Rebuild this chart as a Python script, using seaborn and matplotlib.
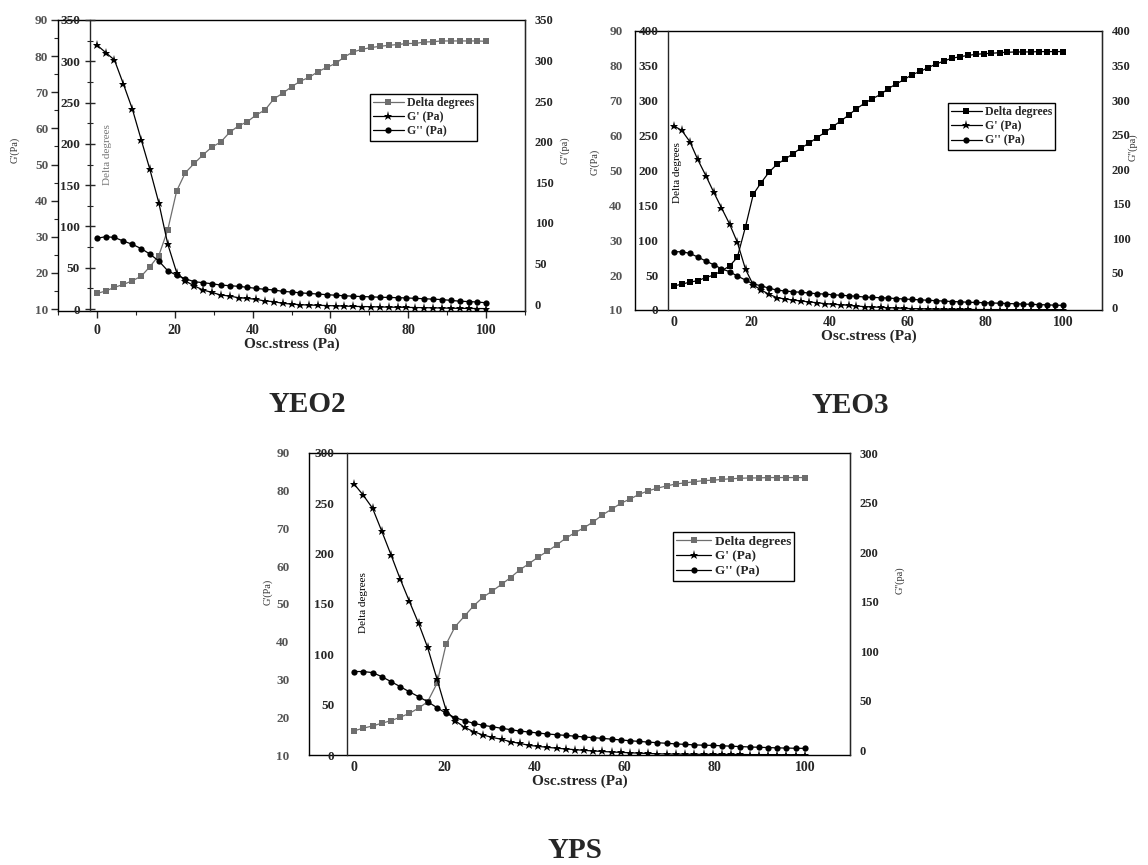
import pandas as pd
import seaborn as sns
import matplotlib.pyplot as plt
from matplotlib.ticker import MultipleLocator

sns.set_style('ticks')
plt.rcParams['font.family'] = ['Liberation Serif', 'DejaVu Serif']
plt.rcParams['font.weight'] = 'bold'

# ---- data ----
# YEO2 (45 points)
x_yeo2 = [0, 2.3, 4.5, 6.8, 9.1, 11.4, 13.6, 15.9, 18.2, 20.5,
          22.7, 25.0, 27.3, 29.5, 31.8, 34.1, 36.4, 38.6, 40.9, 43.2,
          45.5, 47.7, 50.0, 52.3, 54.5, 56.8, 59.1, 61.4, 63.6, 65.9,
          68.2, 70.5, 72.7, 75.0, 77.3, 79.5, 81.8, 84.1, 86.4, 88.6,
          90.9, 93.2, 95.5, 97.7, 100]
delta_yeo2 = [14.3, 15.0, 16.0, 16.8, 17.8, 19.1, 21.7, 24.8, 31.9, 42.7,
              47.7, 50.3, 52.7, 54.8, 56.2, 58.9, 60.7, 61.8, 63.7, 65.1,
              68.2, 69.7, 71.5, 73.1, 74.1, 75.7, 76.9, 78.0, 79.8, 81.2,
              81.9, 82.4, 82.7, 83.0, 83.2, 83.5, 83.5, 83.9, 84.0, 84.2,
              84.2, 84.2, 84.2, 84.2, 84.1]
gp_yeo2 = [319.7, 310.4, 301.6, 272.5, 242.2, 204.7, 169.2, 128.7, 78.7, 44.0,
           34.0, 28.0, 23.0, 20.2, 17.0, 15.7, 13.7, 12.9, 11.7, 9.7,
           8.9, 6.9, 6.0, 5.2, 4.8, 4.5, 4.2, 3.8, 3.5, 3.2,
           3.0, 2.8, 2.5, 2.3, 2.1, 2.0, 1.8, 1.6, 1.4, 1.2,
           1.0, 0.8, 0.7, 0.6, 0.5]
gpp_yeo2 = [81, 83, 82, 77.6, 73.6, 68.2, 61.6, 53.0, 41.0, 35.4,
            31.2, 27.5, 26.3, 25.0, 23.4, 22.6, 21.8, 20.6, 19.3, 18.1,
            17.3, 15.6, 14.8, 13.8, 13.0, 12.3, 11.5, 10.8, 10.2, 9.6,
            9.2, 8.8, 8.4, 8.1, 7.8, 7.5, 7.0, 6.5, 6.0, 5.5,
            4.5, 3.5, 3.0, 2.5, 1.5]

# YEO3 and YPS (50 points)
x_50 = [0, 2.0, 4.1, 6.1, 8.2, 10.2, 12.2, 14.3, 16.3, 18.4,
        20.4, 22.4, 24.5, 26.5, 28.6, 30.6, 32.7, 34.7, 36.7, 38.8,
        40.8, 42.9, 44.9, 46.9, 49.0, 51.0, 53.1, 55.1, 57.1, 59.2,
        61.2, 63.3, 65.3, 67.3, 69.4, 71.4, 73.5, 75.5, 77.6, 79.6,
        81.6, 83.7, 85.7, 87.8, 89.8, 91.8, 93.9, 95.9, 98.0, 100]
delta_yeo3 = [16.9, 17.4, 18.0, 18.4, 19.3, 20.0, 21.2, 22.6, 25.1, 33.9,
              43.2, 46.5, 49.6, 51.8, 53.3, 54.8, 56.5, 57.8, 59.4, 60.9,
              62.6, 64.2, 65.9, 67.7, 69.3, 70.6, 71.8, 73.5, 74.8, 76.1,
              77.5, 78.4, 79.5, 80.5, 81.4, 82.2, 82.6, 83.0, 83.3, 83.5,
              83.6, 83.8, 83.9, 84.0, 84.0, 84.0, 84.1, 84.1, 84.1, 84.1]
gp_yeo3 = [263.8, 257.6, 241.3, 216.0, 192.6, 169.2, 146.7, 123.3, 97.0, 58.3,
           35.8, 28.7, 22.4, 17.7, 15.8, 14.3, 12.9, 11.5, 10.5, 9.1,
           8.1, 7.6, 6.7, 5.7, 4.8, 4.3, 3.8, 3.3, 2.8, 2.3,
           2.0, 1.7, 1.4, 1.2, 1.0, 0.9, 0.8, 0.8, 0.7, 0.7,
           0.6, 0.6, 0.5, 0.5, 0.5, 0.4, 0.4, 0.4, 0.3, 0.3]
gpp_yeo3 = [80.1, 80.1, 77.8, 72.5, 66.7, 61.3, 55.5, 51.2, 44.9, 39.1,
            33.3, 30.9, 27.1, 24.6, 23.2, 22.2, 21.3, 20.3, 19.3, 18.8,
            17.8, 17.0, 16.4, 15.5, 14.5, 14.0, 13.5, 13.0, 12.3, 11.6,
            11.0, 10.4, 9.8, 9.2, 8.6, 8.0, 7.5, 7.0, 6.6, 6.3,
            5.9, 5.5, 5.1, 4.7, 4.3, 3.9, 3.5, 3.1, 2.7, 2.4]
delta_yps = [16.4, 17.1, 17.7, 18.4, 19.1, 20.0, 21.0, 22.4, 24.1, 29.0,
             39.3, 44.0, 46.8, 49.5, 51.8, 53.4, 55.2, 57.0, 59.0, 60.7,
             62.4, 64.0, 65.6, 67.4, 68.9, 70.2, 71.8, 73.6, 75.1, 76.7,
             77.8, 79.1, 80.0, 80.7, 81.3, 81.8, 82.1, 82.4, 82.7, 82.8,
             83.0, 83.2, 83.3, 83.4, 83.4, 83.5, 83.5, 83.5, 83.5, 83.5]
gp_yps = [269.2, 258.3, 245.1, 222.8, 198.7, 175.1, 153.3, 130.8, 107.0, 75.2,
          44.7, 34.1, 27.5, 23.2, 19.9, 17.5, 15.6, 13.2, 11.6, 9.6,
          8.6, 7.6, 6.8, 6.0, 5.3, 4.6, 4.0, 3.5, 3.0, 2.6,
          2.2, 1.8, 1.5, 1.2, 1.0, 0.9, 0.8, 0.7, 0.7, 0.6,
          0.6, 0.5, 0.5, 0.4, 0.4, 0.4, 0.3, 0.3, 0.3, 0.3]
gpp_yps = [79.3, 79.3, 78.2, 74.2, 69.1, 64.1, 59.0, 53.9, 48.9, 42.8,
           37.1, 32.7, 29.7, 27.0, 25.0, 23.6, 22.0, 20.6, 19.2, 18.2,
           17.2, 16.2, 15.5, 14.8, 14.0, 13.2, 12.5, 11.8, 11.0, 10.2,
           9.4, 8.7, 8.0, 7.4, 6.8, 6.2, 5.7, 5.2, 4.9, 4.7,
           4.3, 3.9, 3.5, 3.1, 2.8, 2.5, 2.2, 2.0, 1.8, 1.7]

series_labels = ['Delta degrees', "G' (Pa)", "G'' (Pa)"]

W, H = 1148, 865
fig = plt.figure(figsize=(W / 100, H / 100), dpi=100)


def px(x, y):
    return x / W, 1 - y / H


panels = [
    dict(title='YEO2', x=x_yeo2, delta=delta_yeo2, gp=gp_yeo2, gpp=gpp_yeo2,
         rect=(58, 20, 525, 311), dlim=(9.45, 90), gplim=(-2.4, 350), gpplim=(-8.6, 350),
         inner=-1.7, dcol='#6e6e6e', ticks=True, dpad=2, gpad=4, leg=(0.668, 0.746), legfs=8.5,
         gp_lab=(15, 150), gpp_lab=(565, 150), dtext=(108, 155), dtcol='#777777', title_xy=(307, 404)),
    dict(title='YEO3', x=x_50, delta=delta_yeo3, gp=gp_yeo3, gpp=gpp_yeo3,
         rect=(635, 31, 1102, 310), dlim=(10, 90), gplim=(0, 400), gpplim=(-4.3, 400),
         inner=-1.5, dcol='black', ticks=False, dpad=9, gpad=7, leg=(0.670, 0.742), legfs=8.5,
         gp_lab=(595, 162), gpp_lab=(1133, 147), dtext=(678, 173), dtcol='black', title_xy=(850, 405)),
    dict(title='YPS', x=x_50, delta=delta_yps, gp=gp_yps, gpp=gpp_yps,
         rect=(309, 453, 850, 755), dlim=(10, 90), gplim=(0, 300), gpplim=(-5, 300),
         inner=-1.6, dcol='#6e6e6e', ticks=False, dpad=14, gpad=9, leg=(0.673, 0.738), legfs=9.5,
         gp_lab=(268, 592), gpp_lab=(900, 580), dtext=(364, 603), dtcol='black', title_xy=(575, 850)),
]

for p in panels:
    l, t, r, b = p['rect']
    ax = fig.add_axes([l / W, 1 - b / H, (r - l) / W, (b - t) / H])
    axg = ax.twinx()
    axr = ax.twinx()
    df = pd.DataFrame({'stress': p['x'], 'delta': p['delta'], 'gp': p['gp'], 'gpp': p['gpp']})

    sns.lineplot(data=df, x='stress', y='delta', ax=ax, color=p['dcol'], marker='s',
                 markersize=4.5, markeredgecolor=p['dcol'], markeredgewidth=0,
                 linewidth=0.9, sort=False, legend=False)
    sns.lineplot(data=df, x='stress', y='gp', ax=axg, color='black', marker='*',
                 markersize=6.5, markeredgecolor='black', markeredgewidth=0,
                 linewidth=0.9, sort=False, legend=False)
    sns.lineplot(data=df, x='stress', y='gpp', ax=axr, color='black', marker='o',
                 markersize=4.5, markeredgecolor='black', markeredgewidth=0,
                 linewidth=0.9, sort=False, legend=False)

    ax.set_xlim(-10, 110)
    ax.set_ylim(*p['dlim'])
    axg.set_ylim(*p['gplim'])
    axr.set_ylim(*p['gpplim'])

    # frame
    for s in ['top', 'right', 'bottom', 'left']:
        ax.spines[s].set_visible(True)
        ax.spines[s].set_linewidth(1.0)
        ax.spines[s].set_color('black')
    for s in ['top', 'right', 'bottom']:
        axg.spines[s].set_visible(False)
    axg.spines['left'].set_visible(True)
    axg.spines['left'].set_position(('data', p['inner']))
    axg.spines['left'].set_linewidth(1.0)
    for s in ['top', 'left', 'bottom']:
        axr.spines[s].set_visible(False)

    tl = 5 if p['ticks'] else 0
    ax.xaxis.set_major_locator(MultipleLocator(20))
    ax.yaxis.set_major_locator(MultipleLocator(10))
    axg.yaxis.set_major_locator(MultipleLocator(50))
    axr.yaxis.set_major_locator(MultipleLocator(50))
    if p['ticks']:
        ax.xaxis.set_minor_locator(MultipleLocator(10))
        ax.yaxis.set_minor_locator(MultipleLocator(5))
        axg.yaxis.set_minor_locator(MultipleLocator(25))

    ax.tick_params(axis='x', which='major', length=tl, width=1, pad=4, labelsize=10)
    ax.tick_params(axis='x', which='minor', length=tl * 0.6, width=0.8)
    ax.tick_params(axis='y', which='major', length=tl, width=1, pad=p['dpad'],
                   labelsize=9.5, labelcolor='#555555')
    ax.tick_params(axis='y', which='minor', length=tl * 0.6, width=0.8)

    axg.yaxis.set_ticks_position('left')
    axg.yaxis.set_label_position('left')
    axg.tick_params(axis='y', which='major', direction='inout', length=tl * 1.4,
                    width=1, pad=p['gpad'], labelsize=9.5)
    axg.tick_params(axis='y', which='minor', direction='inout', length=tl, width=0.8)
    axr.tick_params(axis='y', which='major', length=0, pad=7, labelsize=9)

    ax.set_xlabel('Osc.stress (Pa)', fontsize=11, fontweight='bold', labelpad=1)
    ax.set_ylabel('')
    axg.set_ylabel('')
    axr.set_ylabel('')

    handles = [ax.lines[0], axg.lines[0], axr.lines[0]]
    leg = axr.legend(handles, series_labels, loc='upper left', bbox_to_anchor=p['leg'],
                     borderaxespad=0, frameon=True, fancybox=False, framealpha=1,
                     edgecolor='black', fontsize=p['legfs'], borderpad=0.25,
                     labelspacing=0.2, handlelength=2.6, handletextpad=0.3)
    leg.get_frame().set_linewidth(1.0)

    fig.text(*px(*p['gp_lab']), "G'(Pa)", rotation=90, ha='center', va='center',
             fontsize=7.5, fontweight='normal', color='#333333')
    fig.text(*px(*p['gpp_lab']), "G''(pa)", rotation=90, ha='center', va='center',
             fontsize=7.5, fontweight='normal', color='#333333')
    fig.text(*px(*p['dtext']), 'Delta degrees', rotation=90, ha='center', va='center',
             fontsize=8, fontweight='normal', color=p['dtcol'])
    fig.text(*px(*p['title_xy']), p['title'], ha='center', va='center',
             fontsize=21, fontweight='bold')

fig.savefig('out.png', dpi=100, facecolor='white')
